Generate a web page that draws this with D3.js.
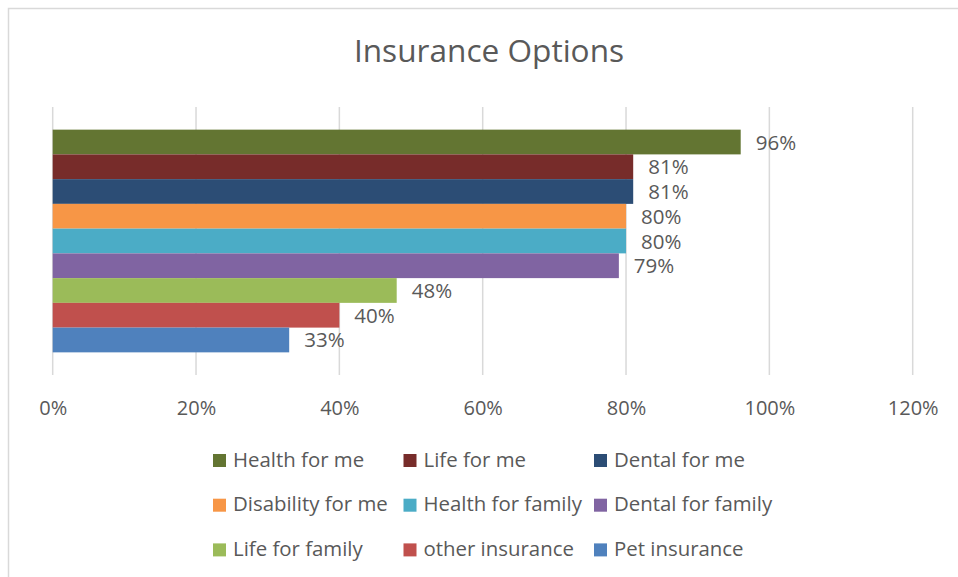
<!DOCTYPE html>
<html>
<head>
<meta charset="utf-8">
<script src="https://cdn.jsdelivr.net/npm/d3@7"></script>
<style>
  html, body { margin: 0; padding: 0; background: #ffffff; }
  svg { display: block; }
  text { font-family: "Open Sans", "Noto Sans", sans-serif; fill: #595959; }
</style>
</head>
<body>
<svg id="chart" width="958" height="577"></svg>
<script>
// Share of respondents interested in each insurance option
const seriesNames = [
  "Health for me", "Life for me", "Dental for me",
  "Disability for me", "Health for family", "Dental for family",
  "Life for family", "other insurance", "Pet insurance"
];
const seriesValues = [0.96, 0.81, 0.81, 0.80, 0.80, 0.79, 0.48, 0.40, 0.33];
const seriesColors = [
  "#637532", "#772C2A", "#2C4D75",
  "#F79646", "#4BACC6", "#8064A2",
  "#9BBB59", "#C0504D", "#4F81BD"
];
const xTicks = [0, 0.2, 0.4, 0.6, 0.8, 1.0, 1.2];
const chartTitle = "Insurance Options";

const svg = d3.select("#chart");

// outer chart frame
svg.append("rect")
  .attr("x", 8.5).attr("y", 8.5)
  .attr("width", 1000).attr("height", 1000)
  .attr("fill", "none")
  .attr("stroke", "#d9d9d9")
  .attr("stroke-width", 1.5);

const plot = { left: 52.7, right: 912.7, top: 107, bottom: 375 };

const x = d3.scaleLinear()
  .domain([0, 1.2])
  .range([plot.left, plot.right]);

const y = d3.scaleBand()
  .domain(seriesNames)
  .range([plot.top, plot.bottom])
  .paddingInner(0)
  .paddingOuter(0.915);

// title
svg.append("text")
  .attr("x", 489)
  .attr("y", 62.3)
  .attr("text-anchor", "middle")
  .style("font-size", "31.6px")
  .text(chartTitle);

// vertical gridlines
svg.append("g")
  .selectAll("line")
  .data(xTicks)
  .join("line")
  .attr("x1", d => x(d)).attr("x2", d => x(d))
  .attr("y1", plot.top).attr("y2", plot.bottom)
  .attr("stroke", "#d9d9d9")
  .attr("stroke-width", 1.5);

// x axis labels
const xAxis = d3.axisBottom(x)
  .tickValues(xTicks)
  .tickFormat(d3.format(".0%"))
  .tickSize(0)
  .tickPadding(0);

const axisG = svg.append("g")
  .attr("transform", `translate(0,${plot.bottom})`)
  .call(xAxis);
axisG.select(".domain").remove();
axisG.selectAll("text")
  .attr("y", 40)
  .attr("dy", null)
  .style("font-size", "20px")
  .style("font-family", "'Open Sans', sans-serif")
  .attr("fill", "#595959");

// bars
const rows = seriesNames.map((name, i) => ({ name, value: seriesValues[i], color: seriesColors[i] }));

svg.append("g")
  .selectAll("rect")
  .data(rows)
  .join("rect")
  .attr("x", x(0))
  .attr("y", d => y(d.name))
  .attr("width", d => x(d.value) - x(0))
  .attr("height", y.bandwidth())
  .attr("fill", d => d.color);

// value labels
svg.append("g")
  .selectAll("text")
  .data(rows)
  .join("text")
  .attr("x", d => x(d.value) + 15)
  .attr("y", d => y(d.name) + y.bandwidth() / 2 + 7.5)
  .style("font-size", "20.5px")
  .text(d => d3.format(".0%")(d.value));

// legend, three columns
const legendCols = [213, 403.5, 594];
const legendRow0 = 454;
const legendRowStep = 44.7;

const legend = svg.append("g")
  .selectAll("g")
  .data(rows)
  .join("g")
  .attr("transform", (d, i) =>
    `translate(${legendCols[i % 3]},${legendRow0 + Math.floor(i / 3) * legendRowStep})`);

legend.append("rect")
  .attr("width", 13).attr("height", 13)
  .attr("fill", d => d.color);

legend.append("text")
  .attr("x", 20)
  .attr("y", 12.7)
  .style("font-size", "20.4px")
  .text(d => d.name);
</script>
</body>
</html>
